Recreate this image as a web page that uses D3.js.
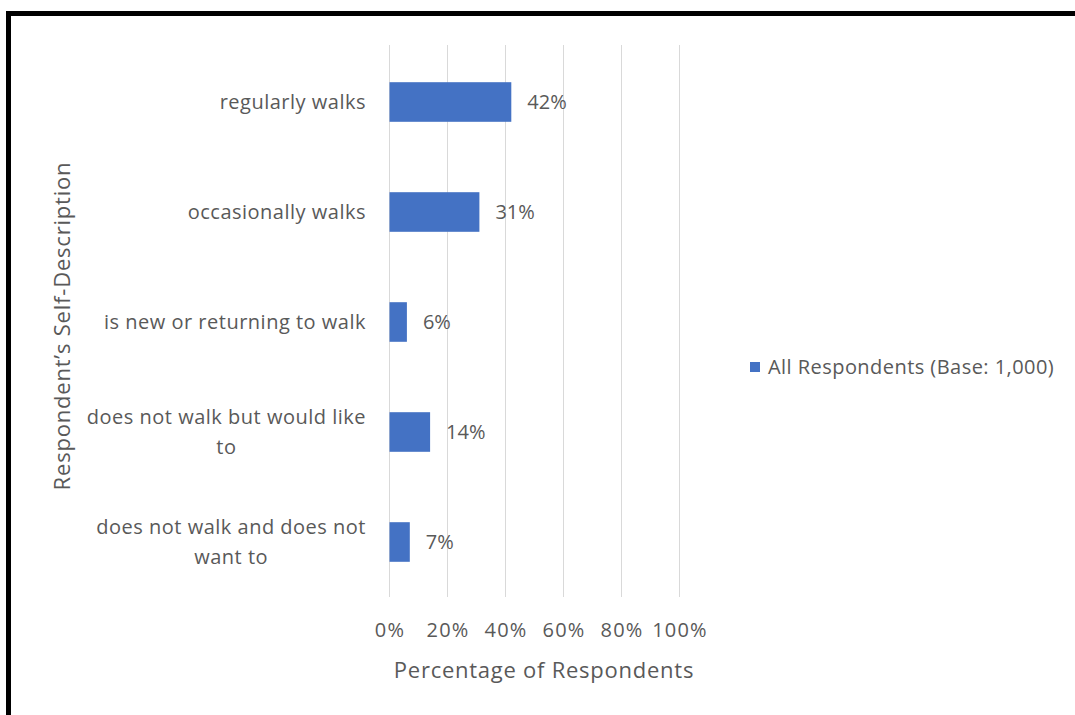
<!DOCTYPE html>
<html>
<head>
<meta charset="utf-8">
<script src="https://cdn.jsdelivr.net/npm/d3@7"></script>
<style>
  html, body { margin: 0; padding: 0; background: #fff; }
  svg { display: block; }
  text { font-family: "Open Sans", "Noto Sans", sans-serif; fill: #595959; }
</style>
</head>
<body>
<svg id="chart" width="1075" height="715"></svg>
<script>
// Survey: how respondents describe their walking habits
const categories = [
  "regularly walks",
  "occasionally walks",
  "is new or returning to walk",
  "does not walk but would like to",
  "does not walk and does not want to"
];
// wrapped label lines as shown on the category axis
const categoryLines = [
  ["regularly walks"],
  ["occasionally walks"],
  ["is new or returning to walk"],
  ["does not walk but would like", "to"],
  ["does not walk and does not", "want to"]
];
const values = [42, 31, 6, 14, 7];
const xTicks = [0, 20, 40, 60, 80, 100];
const seriesName = "All Respondents (Base: 1,000)";
const xTitle = "Percentage of Respondents";
const yTitle = "Respondent\u2019s Self-Description";

const svg = d3.select("#chart");
const W = 1075, H = 715;
const barColor = "#4472C4";
const gridColor = "#d9d9d9";

// outer frame (runs past the right and bottom edges)
svg.append("rect")
  .attr("x", 8.5).attr("y", 13.5)
  .attr("width", W + 20).attr("height", H + 20)
  .attr("fill", "#fff")
  .attr("stroke", "#000").attr("stroke-width", 5);

const plot = { left: 389.5, right: 679.5, top: 47, bottom: 597 };

const x = d3.scaleLinear().domain([0, 100]).range([plot.left, plot.right]);
const y = d3.scaleBand().domain(categories).range([plot.top, plot.bottom]).paddingInner(0.64).paddingOuter(0.32);

// vertical gridlines
svg.append("g").selectAll("line").data(xTicks).join("line")
  .attr("x1", d => x(d)).attr("x2", d => x(d))
  .attr("y1", plot.top - 2).attr("y2", plot.bottom)
  .attr("stroke", gridColor).attr("stroke-width", 1);

// bars
svg.append("g").selectAll("rect").data(values).join("rect")
  .attr("x", x(0))
  .attr("y", (d, i) => y(categories[i]))
  .attr("width", d => x(d) - x(0))
  .attr("height", y.bandwidth())
  .attr("fill", barColor);

// value labels
svg.append("g").selectAll("text").data(values).join("text")
  .attr("x", d => x(d) + 16)
  .attr("y", (d, i) => y(categories[i]) + y.bandwidth() / 2)
  .attr("dy", "0.35em")
  .attr("font-size", 20)
  .text(d => d + "%");

// x tick labels
const xAxis = d3.axisBottom(x).tickValues(xTicks).tickFormat(d => d + "%").tickSize(0).tickPadding(0);
const gx = svg.append("g").attr("transform", `translate(0,${plot.bottom + 33})`).call(xAxis);
gx.select(".domain").remove();
gx.selectAll("text").attr("font-size", 20).attr("letter-spacing", 1.2).attr("fill", "#595959")
  .style("font-family", '"Open Sans", "Noto Sans", sans-serif').attr("dy", "0.35em").attr("y", 0);

// category labels, wrapped lines centred within a right-aligned block
const labelRight = 366;
const lineGap = 30;
categories.forEach((c, i) => {
  const lines = categoryLines[i];
  const cy = y(c) + y.bandwidth() / 2;
  const g = svg.append("g");
  const texts = lines.map((ln, j) => g.append("text")
    .attr("font-size", 20)
    .attr("letter-spacing", 0.5)
    .attr("text-anchor", "middle")
    .attr("y", cy + (j - (lines.length - 1) / 2) * lineGap)
    .attr("dy", "0.35em")
    .text(ln));
  const maxW = d3.max(texts, t => t.node().getComputedTextLength());
  texts.forEach(t => t.attr("x", labelRight - maxW / 2));
});

// axis titles
svg.append("text")
  .attr("x", 544).attr("y", 670)
  .attr("dy", "0.35em")
  .attr("text-anchor", "middle").attr("font-size", 22)
  .attr("letter-spacing", 0.75)
  .text(xTitle);

svg.append("text")
  .attr("transform", `translate(62,${326}) rotate(-90)`)
  .attr("dy", "0.35em")
  .attr("text-anchor", "middle").attr("font-size", 22)
  .attr("letter-spacing", 0.8)
  .text(yTitle);

// legend
const legend = svg.append("g").attr("transform", "translate(750,367)");
legend.append("rect").attr("x", 0).attr("y", -5).attr("width", 10).attr("height", 10).attr("fill", barColor);
legend.append("text").attr("x", 18).attr("y", 0).attr("dy", "0.35em").attr("font-size", 20)
  .attr("letter-spacing", 0.45).text(seriesName);
</script>
</body>
</html>
